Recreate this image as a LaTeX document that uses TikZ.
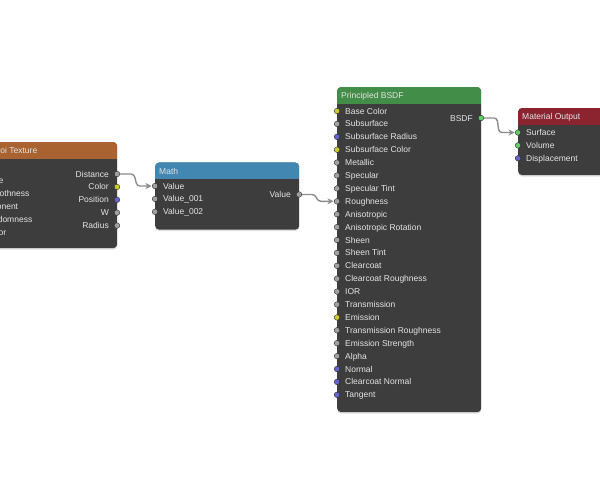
\documentclass[tikz,border=0pt]{standalone}
\usepackage{fontspec}
\setmainfont{Liberation Sans}
\usetikzlibrary{calc,arrows.meta,shadows}
\definecolor{bodyc}{RGB}{61,61,61}
\definecolor{txt}{RGB}{228,228,228}
\definecolor{hvor}{RGB}{168,99,48}
\definecolor{hmath}{RGB}{66,134,178}
\definecolor{hbsdf}{RGB}{66,141,72}
\definecolor{hout}{RGB}{140,36,48}
\definecolor{sgray}{RGB}{161,161,161}
\definecolor{syel}{RGB}{204,204,46}
\definecolor{sblue}{RGB}{100,100,204}
\definecolor{sgreen}{RGB}{100,204,100}
\definecolor{wirec}{RGB}{140,140,140}
\tikzset{
  nodebody/.style={fill=bodyc, rounded corners=4pt, anchor=north west, inner sep=0pt,
    drop shadow={opacity=0.25, shadow xshift=0pt, shadow yshift=-1.5pt}},
  sock/.style={circle, inner sep=0pt, minimum size=5.6pt, draw=bodyc!70!black, line width=0.4pt},
  lbl/.style={text=txt, inner sep=0pt, font=\fontsize{8.5}{10}\selectfont, text height=6.1pt, text depth=0pt},
  lblL/.style={lbl, anchor=west},
  lblR/.style={lbl, anchor=east},
  wire/.style={draw=wirec, line width=1.4pt, rounded corners=3pt, -{Stealth[length=6pt,width=6pt]}, shorten >=0.5pt}
}
\newcommand{\hdr}[3]{%
  \begin{scope}
    \clip[rounded corners=4pt] (#1.north west) rectangle (#1.south east);
    \fill[#2] (#1.north west) rectangle ($(#1.north east)+(0,17)$);
  \end{scope}
  \node[lblL] (#1T) at ($(#1.north west)+(4,8.5)$) {#3};
}
\begin{document}
\begin{tikzpicture}[x=1pt,y=-1pt]
\useasboundingbox (0,0) rectangle (600,500);
\clip (0,0) rectangle (600,500);
\fill[white] (0,0) rectangle (600,500);

% ---------- Voronoi Texture ----------
\node[nodebody, minimum width=143pt, minimum height=106pt] (vor) at (-26,142) {};
\hdr{vor}{hvor}{Voronoi Texture}
\foreach \lab/\col/\yy [count=\i] in {Distance/sgray/174, Color/syel/186.9, Position/sblue/199.8, W/sgray/212.7, Radius/sgray/225.6}{
  \node[sock, fill=\col] (vo\i) at (117,\yy) {};
  \node[lblR] (vol\i) at ($(vo\i)+(-8,0)$) {\lab};
}
\foreach \lab/\col/\yy [count=\i] in {Scale/sgray/180.4, Smoothness/sgray/193.3, Exponent/sgray/206.2, Randomness/sgray/219.1, Vector/sblue/232}{
  \node[sock, fill=\col] (vi\i) at (-26,\yy) {};
  \node[lblL] (vil\i) at ($(vi\i)+(8,0)$) {\lab};
}

% ---------- Math ----------
\node[nodebody, minimum width=144pt, minimum height=67pt] (math) at (155,162.5) {};
\hdr{math}{hmath}{Math}
\foreach \lab/\yy [count=\i] in {Value/186, Value\_001/198.9, Value\_002/211.8}{
  \node[sock, fill=sgray] (mi\i) at (155,\yy) {};
  \node[lblL] (mil\i) at ($(mi\i)+(8,0)$) {\lab};
}
\node[sock, fill=sgray] (mo) at (299,194.5) {};
\node[lblR] (mol) at ($(mo)+(-8,0)$) {Value};

% ---------- Principled BSDF ----------
\node[nodebody, minimum width=144pt, minimum height=325pt] (bsdf) at (337,87) {};
\hdr{bsdf}{hbsdf}{Principled BSDF}
\node[sock, fill=sgreen] (bo) at (481,118) {};
\node[lblR] (bol) at ($(bo)+(-8,0)$) {BSDF};
\foreach \lab/\col [count=\i from 0] in {Base Color/syel, Subsurface/sgray, Subsurface Radius/sblue,
  Subsurface Color/syel, Metallic/sgray, Specular/sgray, Specular Tint/sgray, Roughness/sgray,
  Anisotropic/sgray, Anisotropic Rotation/sgray, Sheen/sgray, Sheen Tint/sgray, Clearcoat/sgray,
  Clearcoat Roughness/sgray, IOR/sgray, Transmission/sgray, Emission/syel,
  Transmission Roughness/sgray, Emission Strength/sgray, Alpha/sgray, Normal/sblue,
  Clearcoat Normal/sblue, Tangent/sblue}{
  \node[sock, fill=\col] (bi\i) at (337,{111+12.9*\i}) {};
  \node[lblL] (bil\i) at ($(bi\i)+(8,0)$) {\lab};
}

% ---------- Material Output ----------
\node[nodebody, minimum width=143pt, minimum height=67pt] (mat) at (518,108) {};
\hdr{mat}{hout}{Material Output}
\foreach \lab/\col/\yy [count=\i] in {Surface/sgreen/132.5, Volume/sgreen/145.4, Displacement/sblue/158.3}{
  \node[sock, fill=\col] (oi\i) at (518,\yy) {};
  \node[lblL] (oil\i) at ($(oi\i)+(8,0)$) {\lab};
}

% ---------- Wires ----------
\draw[wire] (vo1) -- ++(17,0) -- ($(mi1)+(-18,0)$) -- (mi1);
\draw[wire] (mo) -- ++(16,0) -- ($(bi7)+(-19,0)$) -- (bi7);
\draw[wire] (bo) -- ++(16,0) -- ($(oi1)+(-19,0)$) -- (oi1);
\end{tikzpicture}
\end{document}
